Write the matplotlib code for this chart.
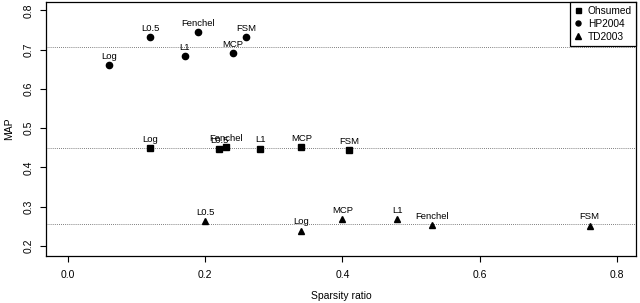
import matplotlib
matplotlib.use("Agg")
import matplotlib.pyplot as plt

plt.rcParams['font.family'] = ['Liberation Sans', 'DejaVu Sans']

# sparsity ratio / MAP per method and dataset
hp_names = ['Log', 'L0.5', 'L1', 'Fenchel', 'MCP', 'FSM']
hp_x = [0.06, 0.12, 0.17, 0.19, 0.24, 0.26]
hp_y = [0.660, 0.732, 0.683, 0.744, 0.692, 0.732]
hp_base = 0.706

oh_names = ['Log', 'L0.5', 'Fenchel', 'L1', 'MCP', 'FSM']
oh_x = [0.12, 0.22, 0.23, 0.28, 0.34, 0.41]
oh_y = [0.450, 0.447, 0.451, 0.448, 0.451, 0.445]
oh_base = 0.449

td_names = ['L0.5', 'Log', 'MCP', 'L1', 'Fenchel', 'FSM']
td_x = [0.20, 0.34, 0.40, 0.48, 0.53, 0.76]
td_y = [0.263, 0.239, 0.268, 0.269, 0.253, 0.252]
td_base = 0.255

fig = plt.figure(figsize=(6.4, 3.03), dpi=100)
ax = fig.add_axes([0.072, 0.156, 0.922, 0.838])

series = [
    ('Ohsumed', 's', 4.5, oh_names, oh_x, oh_y, oh_base),
    ('HP2004', 'o', 4.5, hp_names, hp_x, hp_y, hp_base),
    ('TD2003', '^', 5, td_names, td_x, td_y, td_base),
]
for label, mk, ms, names, xs, ys, base in series:
    ax.axhline(base, color='#555555', linestyle=(0, (1, 1.5)), linewidth=0.6, zorder=1)
    ax.plot(xs, ys, linestyle='none', marker=mk, markersize=ms, color='black',
            label=label, zorder=3)
    for n, x, y in zip(names, xs, ys):
        ax.annotate(n, (x, y), xytext=(0, 4.5), textcoords='offset points',
                    ha='center', va='baseline', fontsize=6.8)

ax.set_xlim(-0.032, 0.828)
ax.set_ylim(0.175, 0.822)
ax.set_xticks([0.0, 0.2, 0.4, 0.6, 0.8])
ax.set_yticks([0.2, 0.3, 0.4, 0.5, 0.6, 0.7, 0.8])
ax.set_xticklabels(['0.0', '0.2', '0.4', '0.6', '0.8'], fontsize=7.5)
ax.set_yticklabels(['0.2', '0.3', '0.4', '0.5', '0.6', '0.7', '0.8'],
                   fontsize=7.5, rotation=90, va='center')
ax.tick_params(axis='x', direction='out', length=4, width=0.8, pad=6)
ax.tick_params(axis='y', direction='out', length=4, width=0.8, pad=5)
for s in ax.spines.values():
    s.set_linewidth(0.9)
ax.set_xlabel('Sparsity ratio', fontsize=7.5, labelpad=8)
ax.set_ylabel('MAP', fontsize=7.5, labelpad=7)

leg = ax.legend(loc='upper right', borderaxespad=0, fancybox=False, fontsize=7.3,
                edgecolor='black', framealpha=1, handlelength=0.8,
                handletextpad=0.6, labelspacing=0.3, markerscale=0.8)
leg.get_frame().set_linewidth(0.9)

fig.savefig('out.png', dpi=100)
